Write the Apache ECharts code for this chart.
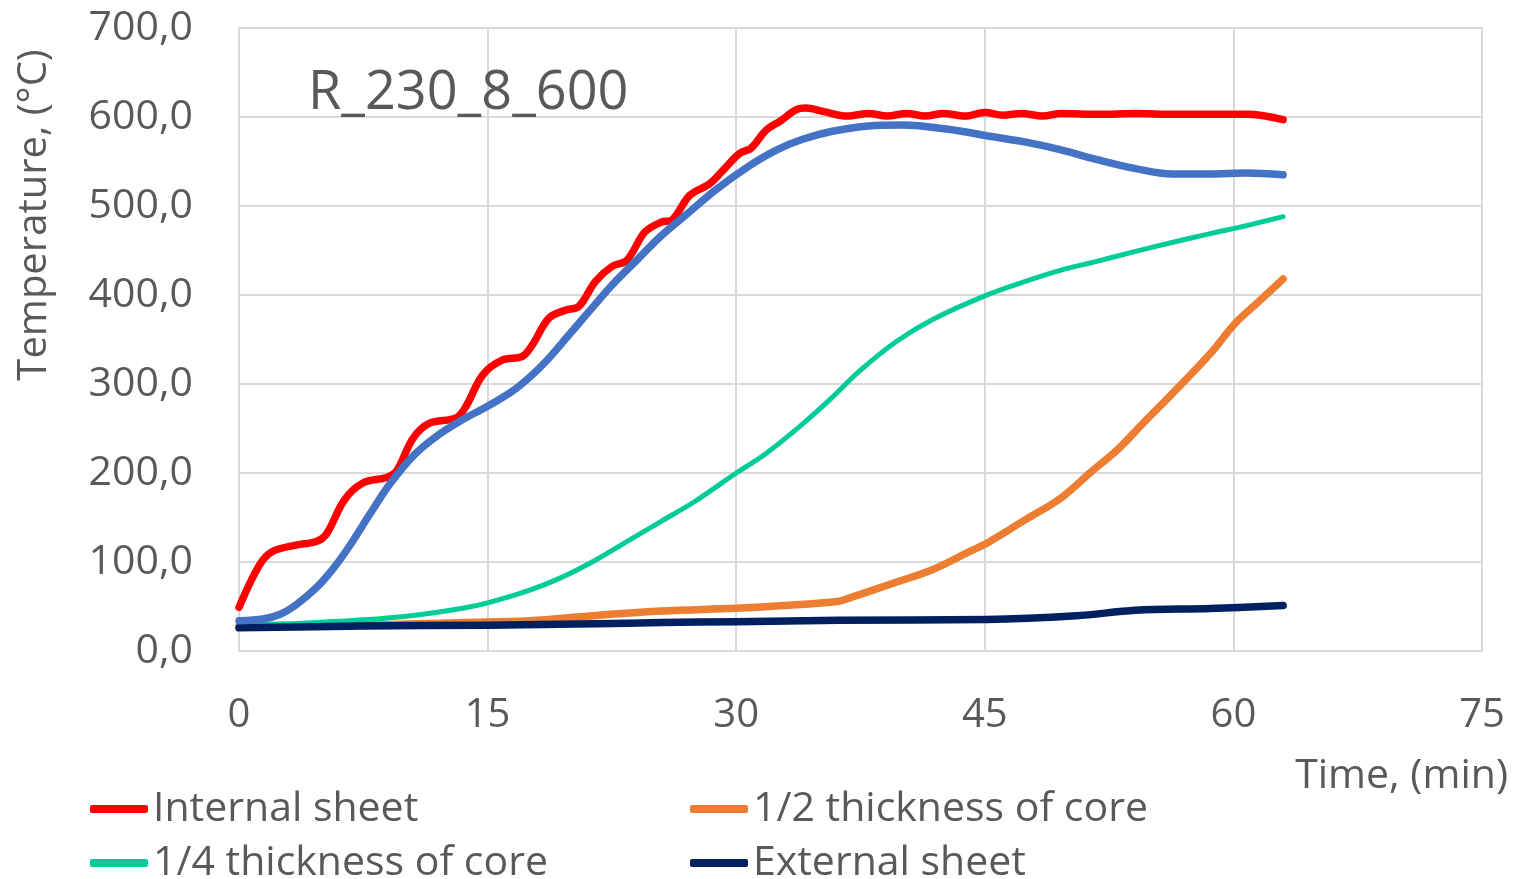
<!DOCTYPE html>
<html>
<head>
<meta charset="utf-8">
<script src="https://cdn.jsdelivr.net/npm/echarts@6/dist/echarts.min.js"></script>
<style>
  html, body { margin: 0; padding: 0; background: #fff; }
  #chart { width: 1522px; height: 879px; }
</style>
</head>
<body>
<div id="chart"></div>
<script>
// Measured temperatures (°C) against fire exposure time (min)
const internalTime = [0, 1.25, 2.05, 3.45, 4.66, 5.26, 6.37, 7.5, 8.9, 9.5, 10.5, 11.5, 13.1, 13.7, 14.7, 15.9, 17.1, 17.7, 18.7, 19.7, 20.5, 21.5, 22.5, 23.4, 24.5, 25.5, 26.1, 27.2, 28.4, 29.2, 30.2, 30.9, 31.8, 32.7, 33.6, 34.2, 35.3, 36.7, 38.0, 39.1, 40.3, 41.4, 42.5, 43.8, 45.0, 46.1, 47.2, 48.5, 49.6, 51.9, 54.1, 56.4, 58.6, 60.8, 63];
const internalTemp = [49, 97, 112, 119, 123, 131, 170, 189, 195, 202, 239, 256, 262, 275, 310, 327, 331, 344, 374, 383, 387, 415, 432, 439, 471, 482, 484, 512, 525, 540, 559, 565, 585, 596, 608, 610, 606, 601, 604, 601, 604, 601, 604, 601, 605, 602, 604, 601, 604, 603, 604, 603, 603, 603, 597];

const interfaceTime = [0, 1.45, 2.45, 3.45, 4.66, 5.66, 6.67, 7.87, 9.08, 10.5, 11.9, 13.5, 15, 16.5, 17.5, 18.5, 19.9, 21.1, 22.5, 24.1, 25.5, 27.1, 28.75, 30.7, 32.45, 34, 35.8, 38, 40, 42.9, 45.1, 47.4, 49.6, 51.8, 54.1, 56.3, 58.6, 60.8, 63];
const interfaceTemp = [34, 36, 41, 52, 71, 92, 118, 153, 187, 219, 241, 260, 275, 292, 307, 325, 355, 381, 411, 441, 467, 492, 518, 544, 563, 575, 584, 590, 591, 586, 579, 572, 563, 552, 542, 536, 536, 537, 535];

const quarterTime = [0, 3.5, 7.5, 10.5, 13.5, 15, 17.5, 19.5, 21.5, 23.5, 25.5, 27.5, 30, 31.8, 34, 35.8, 37.4, 39.6, 41.8, 45, 47.4, 49.6, 51.8, 54.1, 56.3, 58.6, 60.8, 63];
const quarterTemp = [30, 31, 35, 40, 48, 54, 68, 83, 102, 124, 146, 168, 200, 222, 255, 285, 314, 347, 372, 399, 415, 428, 438, 449, 459, 469, 478, 488];

const halfTime = [0, 7.5, 13.5, 17.5, 21.5, 25.5, 30, 32.9, 36.2, 36.9, 39.6, 41.8, 44.1, 45.2, 47.4, 49.6, 51.4, 53, 54.5, 56.3, 58.6, 60.1, 61.5, 63];
const halfTemp = [28, 29, 32, 34, 40, 45, 48, 51, 56, 60, 77, 91, 112, 122, 147, 172, 201, 226, 255, 289, 334, 368, 392, 418];

const externalTime = [0, 7.5, 15, 21.5, 25.5, 30, 36.2, 45.1, 50.5, 54.1, 58.6, 63];
const externalTemp = [26, 28, 29, 30.5, 32, 33, 34.5, 35.3, 39.5, 45.7, 47.8, 51];

const xTicks = [0, 15, 30, 45, 60, 75];
const yTicks = [0, 100, 200, 300, 400, 500, 600, 700];

const pairs = (t, v) => t.map((x, i) => [x, v[i]]);

const FONT = '"Open Sans", sans-serif';
const GREY = '#595959';
const GRID = '#D9D9D9';

function line(name, t, v, color, width) {
  return {
    name: name,
    type: 'line',
    data: pairs(t, v),
    smooth: 0.35,
    showSymbol: false,
    symbol: 'none',
    lineStyle: { color: color, width: width, cap: 'round', join: 'round' },
    itemStyle: { color: color },
    emphasis: { disabled: true }
  };
}

// one legend entry per box, laid out as a two-by-two block
function legendItem(name, left, top) {
  return {
    data: [name],
    left: left,
    top: top,
    itemWidth: 58,
    itemHeight: 8,
    icon: 'roundRect',
    padding: 0,
    textStyle: { color: GREY, fontFamily: FONT, fontSize: 41, lineHeight: 46 }
  };
}

const chart = echarts.init(document.getElementById('chart'), null, { renderer: 'canvas' });
chart.setOption({
  animation: false,
  backgroundColor: '#ffffff',
  title: {
    text: 'R_230_8_600',
    left: 303,
    top: 62,
    textStyle: { fontFamily: FONT, fontSize: 54, fontWeight: 'normal', color: GREY }
  },
  grid: { left: 239, right: 40, top: 28, bottom: 228, containLabel: false },
  xAxis: {
    type: 'value',
    min: xTicks[0],
    max: xTicks[xTicks.length - 1],
    interval: 15,
    axisLine: { show: true, lineStyle: { color: GRID, width: 2 } },
    axisTick: { show: false },
    splitLine: { show: true, lineStyle: { color: GRID, width: 2 } },
    axisLabel: { color: GREY, fontFamily: FONT, fontSize: 40, margin: 45 }
  },
  yAxis: {
    type: 'value',
    min: yTicks[0],
    max: yTicks[yTicks.length - 1],
    interval: 100,
    axisLine: { show: true, lineStyle: { color: GRID, width: 2 } },
    axisTick: { show: false },
    splitLine: { show: true, lineStyle: { color: GRID, width: 2 } },
    axisLabel: {
      color: GREY, fontFamily: FONT, fontSize: 41, margin: 46,
      formatter: v => v.toFixed(1).replace('.', ',')
    }
  },
  legend: [
    legendItem('Internal sheet', 90, 786),
    legendItem('1/2 thickness of core', 690, 786),
    legendItem('1/4 thickness of core', 90, 840),
    legendItem('External sheet', 690, 840)
  ],
  graphic: [
    {
      type: 'text',
      x: 35,
      y: 215,
      rotation: Math.PI / 2,
      style: {
        text: 'Temperature, (°C)',
        font: '40px "Open Sans", sans-serif',
        fill: GREY,
        align: 'center',
        verticalAlign: 'middle'
      }
    },
    {
      type: 'text',
      x: 1508,
      y: 776,
      style: {
        text: 'Time, (min)',
        font: '41px "Open Sans", sans-serif',
        fill: GREY,
        align: 'right',
        verticalAlign: 'middle'
      }
    }
  ],
  series: [
    line('Internal sheet', internalTime, internalTemp, '#FF0000', 7.5),
    line('1/2 thickness of core', halfTime, halfTemp, '#ED7D31', 7.5),
    line('1/4 thickness of core', quarterTime, quarterTemp, '#00CC99', 5),
    line('External sheet', externalTime, externalTemp, '#002060', 7.5),
    line('Interface', interfaceTime, interfaceTemp, '#4472C4', 7.5)
  ]
});
</script>
</body>
</html>
